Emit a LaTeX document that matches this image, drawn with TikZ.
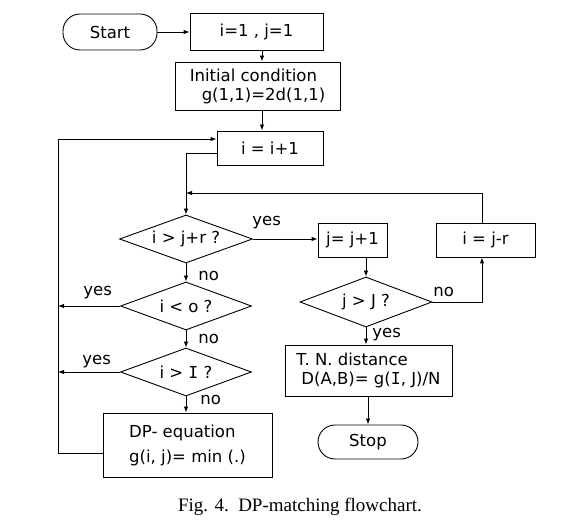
\documentclass[tikz,border=0pt]{standalone}
\usepackage{fontspec}
\setmainfont{DejaVu Sans}
\newfontfamily\capfont{Liberation Serif}
\newfontfamily\serifI{DejaVu Sans Mono}
\newcommand{\bigI}{{\serifI I}}
\usetikzlibrary{shapes.geometric,arrows.meta}
\begin{document}
\begin{tikzpicture}[x=1pt,y=-1pt,
  font=\fontsize{16.5}{19}\selectfont,
  line width=0.9pt,
  procbox/.style={draw, rectangle, inner sep=0pt},
  termbox/.style={draw, rectangle, rounded corners=17pt, inner sep=0pt},
  decision/.style={draw, diamond, aspect=2.75, inner sep=0pt, minimum width=131pt, minimum height=48pt},
  arr/.style={-{Latex[length=6pt,width=4.5pt]}},
  lbl/.style={inner sep=0pt, anchor=west}]
\useasboundingbox (0,0) rectangle (568,526);
% nodes
\node[termbox, minimum width=94pt, minimum height=36pt] (start) at (110,32) {Start};
\node[procbox, minimum width=133pt, minimum height=37pt] (ij) at (256.5,31.5) {i=1 , j=1};
\node[procbox, minimum width=165pt, minimum height=48pt, align=left] (init) at (257.5,86) {Initial condition\\\hspace*{12pt}g(1,1)=2d(1,1)};
\node[procbox, minimum width=106pt, minimum height=34pt] (inc) at (270,148) {i = i+1};
\node[decision, minimum width=133pt] (d1) at (186,239) {i > j+r ?};
\node[decision] (d2) at (186,306) {i < o ?};
\node[decision] (d4) at (186,372) {i > \bigI\ ?};
\node[procbox, minimum width=169pt, minimum height=64pt, align=left] (dp) at (187.5,445) {DP- equation\\[6pt]g(i, j)= min (.)};
\node[procbox, minimum width=69pt, minimum height=34pt] (jinc) at (352.5,240) {j= j+1};
\node[procbox, minimum width=99pt, minimum height=34pt] (ijr) at (485.5,240) {i = j-r};
\node[decision, minimum width=132pt, minimum height=50pt] (d3) at (366,302) {j > J ?};
\node[procbox, minimum width=167pt, minimum height=51pt, align=left] (tn) at (368.5,370.5) {T. N. distance\\\hspace*{5pt}D(A,B)= g(\bigI, J)/N};
\node[termbox, minimum width=100pt, minimum height=34pt] (stop) at (368,442) {Stop};
\node[font=\capfont\fontsize{19}{22}\selectfont, inner sep=0pt] (cap) at (300,507) {Fig. 4.\ \ DP-matching flowchart.};
% helper coordinates
\coordinate (cx1) at (262,0);
\coordinate (lx) at (58,0);
\coordinate (ly) at (0,139);
\coordinate (dpy) at (0,453);
\coordinate (ey) at (0,153);
\coordinate (ry) at (0,193);
\coordinate (rx) at (482,0);
% connectors
\draw[arr] (start) -- (ij.west |- start);
\draw[arr] (ij.south -| cx1) -- (init.north -| cx1);
\draw[arr] (init.south -| cx1) -- (inc.north -| cx1);
\draw[arr] (dp.west |- dpy) -| (lx |- ly) -- (inc.west |- ly);
\draw[arr] (inc.west |- ey) -| (d1.north);
\draw[arr] (ijr.north -| rx) |- (d1.north |- ry);
\draw[arr] (d1.east) -- (jinc.west |- d1.east);
\draw[arr] (jinc.south -| d3.north) -- (d3.north);
\draw[arr] (d3.east) -| (ijr.south -| rx);
\draw[arr] (d3.south) -- (tn.north -| d3.south);
\draw[arr] (tn.south -| stop.north) -- (stop.north);
\draw[arr] (d1.south) -- (d2.north);
\draw[arr] (d2.south) -- (d4.north);
\draw[arr] (d4.south) -- (dp.north -| d4.south);
\draw[arr] (d2.west) -- (lx |- d2.west);
\draw[arr] (d4.west) -- (lx |- d4.west);
% labels
\node[lbl] (y1) at (252,223) {yes};
\node[lbl] (n1) at (198,276) {no};
\node[lbl] (y2) at (83,293) {yes};
\node[lbl] (n2) at (198,339) {no};
\node[lbl] (y3) at (82,362) {yes};
\node[lbl] (n3) at (200,400) {no};
\node[lbl] (n4) at (433,292) {no};
\node[lbl] (y4) at (372,335) {yes};
\end{tikzpicture}
\end{document}
